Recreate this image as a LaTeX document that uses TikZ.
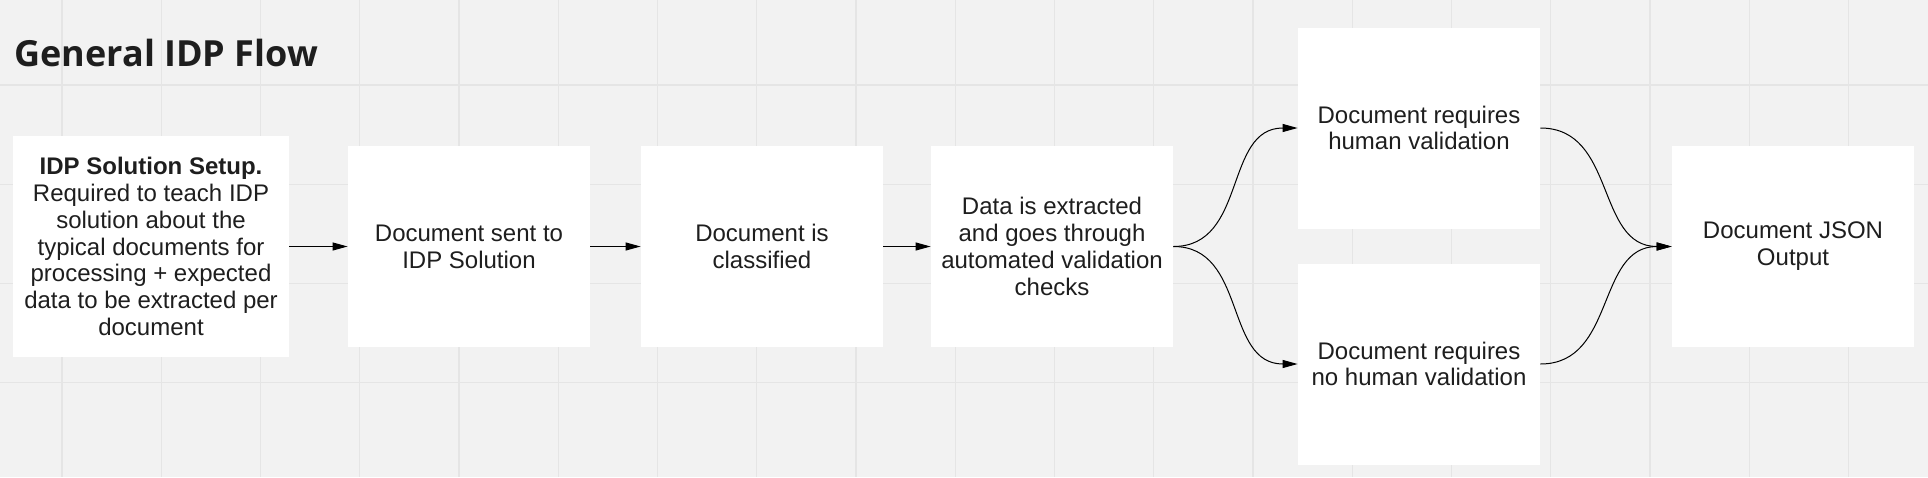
\documentclass[tikz,border=0pt]{standalone}
\usepackage{fontspec}
\setmainfont{Liberation Sans}
\newfontfamily\titlefont{Open Sans}
\usetikzlibrary{arrows.meta}
\definecolor{bgc}{HTML}{F2F2F2}
\definecolor{gridc}{HTML}{E5E5E5}
\definecolor{txtc}{HTML}{1E1E1E}
\tikzset{
  box/.style={draw=none, fill=white, align=center, text=txtc, inner sep=0pt,
    font=\fontsize{12}{13.4}\selectfont, minimum width=121pt, minimum height=100.5pt},
  conn/.style={draw=black, line width=0.5pt, -{Triangle[length=7.5pt,width=4pt]}},
}
\begin{document}
\begin{tikzpicture}[x=0.5pt,y=-0.5pt]
\fill[bgc] (0,0) rectangle (1928,477);
\useasboundingbox (0,0) rectangle (1928,477);
\foreach \k in {0,...,18} {\draw[gridc,line width=0.55pt] ({62+99.25*\k},0) -- ({62+99.25*\k},477);}
\foreach \k in {0,...,3} {\draw[gridc,line width=0.55pt] (0,{85+99.25*\k}) -- (1928,{85+99.25*\k});}

\node[anchor=base west, inner sep=0pt, text=txtc, font=\titlefont\bfseries\fontsize{18}{20}\selectfont] (title) at (14,66) {General IDP Flow};

\node[box, minimum width=138pt, minimum height=110.5pt] (b1) at (151,246.5)
  {\textbf{IDP Solution Setup.}\\Required to teach IDP\\solution about the\\typical documents for\\processing + expected\\data to be extracted per\\document};
\node[box] (b2) at (469,246.5) {Document sent to\\IDP Solution};
\node[box] (b3) at (762,246.5) {Document is\\classified};
\node[box] (b4) at (1052,246.5) {Data is extracted\\and goes through\\automated validation\\checks};
\node[box] (b5) at (1419,128) {Document requires\\human validation};
\node[box] (b6) at (1419,364) {Document requires\\no human validation};
\node[box] (b7) at (1793,246.5) {Document JSON\\Output};

\draw[conn] (b1.east) -- (b2.west);
\draw[conn] (b2.east) -- (b3.west);
\draw[conn] (b3.east) -- (b4.west);
\draw[conn] (b4.east) to[out=0,in=180,looseness=1.1] (b5.west);
\draw[conn] (b4.east) to[out=0,in=180,looseness=1.1] (b6.west);
\draw[conn] (b5.east) to[out=0,in=180,looseness=1.1] (b7.west);
\draw[conn] (b6.east) to[out=0,in=180,looseness=1.1] (b7.west);
\end{tikzpicture}
\end{document}
